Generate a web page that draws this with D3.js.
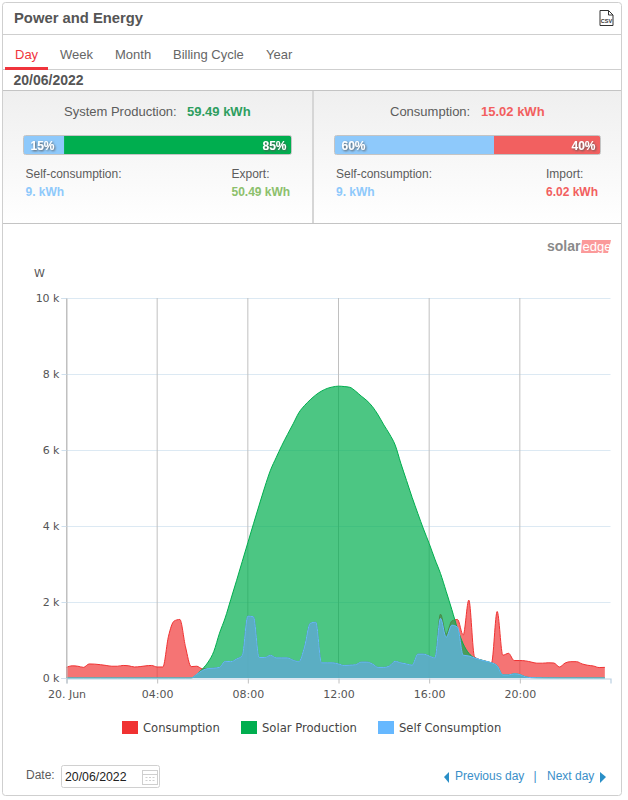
<!DOCTYPE html>
<html>
<head>
<meta charset="utf-8">
<script src="https://cdn.jsdelivr.net/npm/d3@7"></script>
<style>
  html, body { margin: 0; padding: 0; background: #fff; }
  svg { display: block; }
  text { font-family: "Liberation Sans", Arial, sans-serif; }
  .chart-text { font-family: "DejaVu Sans", Verdana, sans-serif; font-size: 11px; }
</style>
</head>
<body>
<svg id="page" width="628" height="800"></svg>
<script>
// one value every 15 minutes, starting at 00:00 (W)
const consumption = [
  280, 320, 310, 280,  370, 365, 350, 330,  310, 310, 330, 320,  290, 300, 320, 330,
  290, 290, 1100, 1500,  1540, 820, 300, 310,  240, 250, 260, 280,  440, 430, 500, 590,
  1630, 1610, 540, 540,  600, 530, 530, 530,  470, 430, 820, 1440,  1470, 400, 400, 400,
  370, 330, 340, 350,  420, 420, 370, 280,  280, 320, 440, 400,  370, 340, 630, 630,
  580, 530, 1680, 1150,  1500, 1540, 1130, 2050,  560, 480, 440, 400,  1750, 600, 650, 460,
  460, 450, 420, 390,  390, 400, 395, 290,  395, 430, 430, 370,  335, 315, 275, 280
];
const solarProduction = [
  0, 0, 0, 0,  0, 0, 0, 0,  0, 0, 0, 0,  0, 0, 0, 0,
  0, 0, 0, 0,  0, 0, 0, 100,  240, 420, 700, 1180,  1580, 2070, 2560, 3060,
  3560, 4060, 4550, 5030,  5470, 5800, 6120, 6410,  6690, 6980, 7170, 7320,  7450, 7550, 7620, 7660,
  7680, 7670, 7650, 7550,  7420, 7300, 7140, 6920,  6660, 6420, 6130, 5650,  5200, 4750, 4330, 3920,
  3540, 3130, 2750, 2280,  1800, 1300, 900, 650,  530, 480, 440, 400,  320, 80, 80, 110,
  90, 30, 10, 5,  3, 2, 2, 1,  1, 1, 1, 0,  0, 0, 0, 0
];
const selfConsumption = [
  0, 0, 0, 0,  0, 0, 0, 0,  0, 0, 0, 0,  0, 0, 0, 0,
  0, 0, 0, 0,  0, 0, 0, 100,  200, 250, 260, 280,  440, 430, 500, 590,
  1630, 1610, 540, 540,  600, 530, 530, 530,  470, 430, 820, 1440,  1470, 400, 400, 400,
  370, 330, 340, 350,  420, 420, 370, 280,  280, 320, 440, 400,  370, 340, 630, 630,
  580, 530, 1570, 1070,  1390, 1340, 600, 580,  530, 480, 440, 400,  320, 80, 80, 110,
  90, 30, 10, 5,  3, 2, 2, 1,  1, 1, 1, 0,  0, 0, 0, 0
];
const xTickHours = [0, 4, 8, 12, 16, 20];
const xTickLabels = ["20. Jun", "04:00", "08:00", "12:00", "16:00", "20:00"];
const yTicks = [0, 2000, 4000, 6000, 8000, 10000];
const tabs = ["Day", "Week", "Month", "Billing Cycle", "Year"];
const legendNames = ["Consumption", "Solar Production", "Self Consumption"];
const productionShares = [15, 85];
const consumptionShares = [60, 40];

const svg = d3.select("#page");

const x = d3.scaleLinear().domain([0, 24]).range([66.5, 610.5]);
const y = d3.scaleLinear().domain([0, 10000]).range([678, 298]);

// ---- frame
svg.append("rect").attr("x", 2.5).attr("y", 2.5).attr("width", 619).attr("height", 793)
  .attr("rx", 3).attr("fill", "#fff").attr("stroke", "#cfcfcf");

function hline(py, x1, x2, color) {
  svg.append("line").attr("x1", x1).attr("x2", x2).attr("y1", py).attr("y2", py)
    .attr("stroke", color || "#cfcfcf");
}
function label(str, px, py, size, color, weight, anchor) {
  return svg.append("text").attr("x", px).attr("y", py)
    .attr("font-size", size).attr("fill", color)
    .attr("font-weight", weight || "normal")
    .attr("text-anchor", anchor || "start")
    .text(str);
}

// ---- header
label("Power and Energy", 14, 23, 14.8, "#555", "bold");
hline(34.5, 3, 621);
const csv = svg.append("g").attr("transform", "translate(599.5,10)");
csv.append("path").attr("d", "M0.5,0.5H9L13.5,5V15.5H0.5Z M9,0.5V5H13.5").attr("fill", "#fff").attr("stroke", "#333");
csv.append("text").attr("x", 7).attr("y", 12.5).attr("font-size", 5.5).attr("font-weight", "bold")
  .attr("text-anchor", "middle").attr("fill", "#333").text("CSV");

// ---- tabs
const tabX = [15, 60, 115, 173, 266];
tabs.forEach((t, i) => label(t, tabX[i], 59, 13, i === 0 ? "#f0343c" : "#666"));
hline(69.5, 3, 621);
svg.append("rect").attr("x", 5).attr("y", 67).attr("width", 43).attr("height", 3).attr("fill", "#f0343c");
label("20/06/2022", 13.5, 85, 14, "#555", "bold");

// ---- summary panels
const defs = svg.append("defs");
const grad = defs.append("linearGradient").attr("id", "panelGrad").attr("x1", 0).attr("x2", 0).attr("y1", 0).attr("y2", 1);
grad.append("stop").attr("offset", 0).attr("stop-color", "#efefef");
grad.append("stop").attr("offset", 1).attr("stop-color", "#fff");
const shadow = defs.append("filter").attr("id", "txtShadow").attr("x", "-20%").attr("y", "-20%").attr("width", "150%").attr("height", "160%");
shadow.append("feDropShadow").attr("dx", 1).attr("dy", 1).attr("stdDeviation", 0.8).attr("flood-color", "#555");

svg.append("rect").attr("x", 3).attr("y", 90.5).attr("width", 618).attr("height", 133).attr("fill", "url(#panelGrad)");
hline(90.5, 3, 621, "#c4c4c4");
hline(223.5, 3, 621, "#c4c4c4");
svg.append("rect").attr("x", 312).attr("y", 91).attr("width", 2).attr("height", 132).attr("fill", "#d6d6d6");

function sharesBar(shares, x0, x1, colors) {
  const s = d3.scaleLinear().domain([0, 100]).range([x0, x1]);
  const cut = s(shares[0]);
  svg.append("rect").attr("x", x0).attr("y", 136).attr("width", cut - x0).attr("height", 18).attr("fill", colors[0]);
  svg.append("rect").attr("x", cut).attr("y", 136).attr("width", x1 - cut).attr("height", 18).attr("fill", colors[1]);
  svg.append("rect").attr("x", x0 - .5).attr("y", 135.5).attr("width", x1 - x0 + 1).attr("height", 19)
    .attr("rx", 2).attr("fill", "none").attr("stroke", "#c4c4c4");
  label(shares[0] + "%", x0 + 6.5, 150, 12, "#fff", "bold").attr("filter", "url(#txtShadow)");
  label(shares[1] + "%", x1 - 4.5, 150, 12, "#fff", "bold", "end").attr("filter", "url(#txtShadow)");
}

label("System Production:", 64, 116, 13, "#5c5c5c");
label("59.49 kWh", 187, 116, 13, "#2e9e5f", "bold");
sharesBar(productionShares, 24, 291, ["#8ec9fb", "#00ae4f"]);
label("Self-consumption:", 25.5, 178, 12, "#5c5c5c");
label("9. kWh", 25.5, 196, 12, "#8ec9fb", "bold");
label("Export:", 231.5, 178, 12, "#5c5c5c");
label("50.49 kWh", 231.5, 196, 12, "#8cc06c", "bold");

label("Consumption:", 390, 116, 13, "#5c5c5c");
label("15.02 kWh", 481, 116, 13, "#f25f5f", "bold");
sharesBar(consumptionShares, 335, 600, ["#8ec9fb", "#f26060"]);
label("Self-consumption:", 336, 178, 12, "#5c5c5c");
label("9. kWh", 336, 196, 12, "#8ec9fb", "bold");
label("Import:", 546, 178, 12, "#5c5c5c");
label("6.02 kWh", 546, 196, 12, "#f25f5f", "bold");

// ---- logo
label("solar", 547, 251, 14, "#8a8a8a", "bold");
svg.append("path").attr("d", "M582,240H611L608,253H581Z").attr("fill", "#fb9a9a");
label("edge", 582.5, 250.5, 13, "#fff", "normal");

// ---- chart grid and axes
const plot = svg.append("g");

plot.append("g").selectAll("line").data(yTicks.slice(1)).join("line")
  .attr("x1", x(0)).attr("x2", x(24))
  .attr("y1", d => Math.round(y(d)) + .5).attr("y2", d => Math.round(y(d)) + .5)
  .attr("stroke", "#dce9f3");

plot.append("g").selectAll("line").data(xTickHours).join("line")
  .attr("x1", d => x(d)).attr("x2", d => x(d))
  .attr("y1", y(10000)).attr("y2", y(0))
  .attr("stroke", "#c0c0c0");

const hours = consumption.map((_, i) => i * 0.25);

function drawSeries(values, fill, opacity, stroke) {
  const pts = hours.map((h, i) => [h, values[i]]);
  const area = d3.area().x(d => x(d[0])).y0(y(0)).y1(d => y(d[1])).curve(d3.curveMonotoneX);
  const line = d3.line().x(d => x(d[0])).y(d => y(d[1])).curve(d3.curveMonotoneX);
  plot.append("path").datum(pts).attr("d", area).attr("fill", fill).attr("fill-opacity", opacity);
  plot.append("path").datum(pts).attr("d", line).attr("fill", "none").attr("stroke", stroke).attr("stroke-width", 1);
}

const seriesColors = ["#f03232", "#00ae4f", "#66b8ff"];
drawSeries(consumption, seriesColors[0], 0.68, seriesColors[0]);
drawSeries(solarProduction, seriesColors[1], 0.7, seriesColors[1]);
drawSeries(selfConsumption, seriesColors[2], 0.64, seriesColors[2]);

const xAxis = d3.axisBottom(x).tickValues(xTickHours).tickSize(5)
  .tickFormat((d, i) => xTickLabels[i]);
const xG = svg.append("g").attr("class", "chart-text").attr("transform", "translate(0,678.5)").call(xAxis);
xG.select(".domain").attr("stroke", "#b9cfe2").attr("stroke-width", 1.2);
xG.selectAll("line").attr("stroke", "#c0c0c0");
xG.selectAll("text").attr("fill", "#555").attr("y", 12)
  .style("font-family", '"DejaVu Sans", Verdana, sans-serif').style("font-size", "11px");

const yAxis = d3.axisLeft(y).tickValues(yTicks).tickSize(5)
  .tickFormat(d => (d / 1000) + " k");
const yG = svg.append("g").attr("class", "chart-text").attr("transform", "translate(66.5,0)").call(yAxis);
yG.select(".domain").attr("stroke", "#c0c0c0");
yG.selectAll("line").attr("stroke", "#cfe0ee");
yG.selectAll("text").attr("fill", "#555").attr("x", -7)
  .style("font-family", '"DejaVu Sans", Verdana, sans-serif').style("font-size", "11px");

svg.append("text").attr("class", "chart-text").attr("x", 34).attr("y", 277).attr("fill", "#555").text("W");

// ---- legend
const legendX = [122, 241, 378];
legendNames.forEach((name, i) => {
  svg.append("rect").attr("x", legendX[i]).attr("y", 721).attr("width", 16).attr("height", 13).attr("fill", seriesColors[i]);
  svg.append("text").attr("class", "chart-text").attr("x", legendX[i] + 21).attr("y", 732)
    .attr("fill", "#444").attr("font-size", 11.6).style("font-size", "11.6px").text(name);
});

// ---- date row
label("Date:", 26, 779, 12, "#5c5c5c");
svg.append("rect").attr("x", 61.5).attr("y", 765.5).attr("width", 98).attr("height", 22).attr("rx", 2)
  .attr("fill", "#fff").attr("stroke", "#d0d0d0");
label("20/06/2022", 65, 781, 12.3, "#222");
const cal = svg.append("g").attr("transform", "translate(142,768)").attr("fill", "none").attr("stroke", "#cfcfcf");
cal.append("rect").attr("x", .5).attr("y", 2.5).attr("width", 15).attr("height", 14);
cal.append("line").attr("x1", .5).attr("x2", 15.5).attr("y1", 6.5).attr("y2", 6.5);
cal.append("path").attr("d", "M3.5,9.5h2M7,9.5h2M10.5,9.5h2M3.5,12.5h2M7,12.5h2M10.5,12.5h2");

svg.append("path").attr("d", "M444,777L449,772V783Z").attr("fill", "#2a8fc7");
label("Previous day", 455, 780, 12, "#3a8fc9");
label("|", 533.5, 780, 12, "#3a8fc9");
label("Next day", 547, 780, 12, "#3a8fc9");
svg.append("path").attr("d", "M606,777L600,772V783Z").attr("fill", "#2a8fc7");
</script>
</body>
</html>
